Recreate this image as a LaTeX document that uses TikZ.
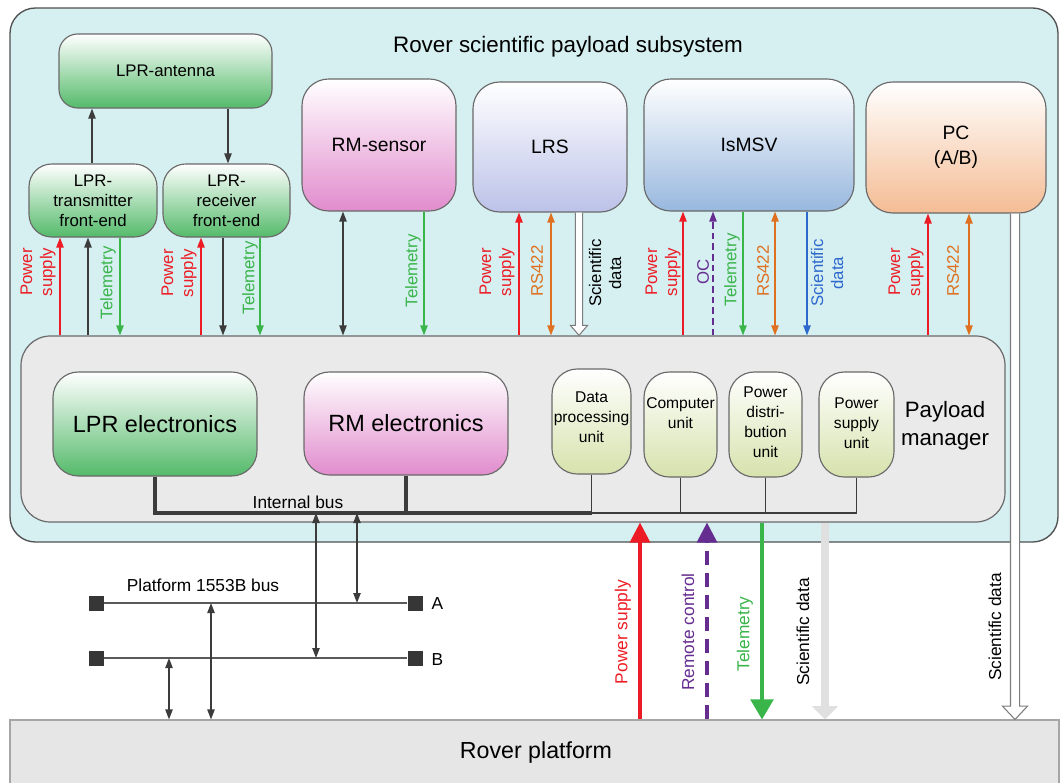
\documentclass[tikz,border=0pt]{standalone}
\usepackage{fontspec}
\setmainfont{Liberation Sans}
\usetikzlibrary{arrows.meta,calc}

\definecolor{skyfill}{RGB}{214,239,241}
\definecolor{frameline}{RGB}{80,80,80}
\definecolor{boxline}{RGB}{105,105,105}
\definecolor{pmfill}{RGB}{234,234,234}
\definecolor{platfill}{RGB}{230,230,230}
\definecolor{lprgreen}{RGB}{84,186,106}
\definecolor{rmpink}{RGB}{225,140,205}
\definecolor{lrslav}{RGB}{188,194,232}
\definecolor{msvblue}{RGB}{152,184,222}
\definecolor{pcpeach}{RGB}{244,188,148}
\definecolor{unitgreen}{RGB}{214,226,172}
\definecolor{pwred}{RGB}{237,28,36}
\definecolor{tmgreen}{RGB}{57,181,74}
\definecolor{rsorange}{RGB}{222,112,32}
\definecolor{ocpurple}{RGB}{102,45,145}
\definecolor{sdblue}{RGB}{45,105,205}
\definecolor{wire}{RGB}{60,60,60}
\definecolor{hollowline}{RGB}{125,125,125}
\definecolor{sdgray}{RGB}{224,224,224}

% hollow (outlined) arrow from #1 to #2: half shaft width, half head width, head length
\newcommand\hollowarrow[5]{%
  \draw[draw=hollowline, fill=white, line width=0.8pt, line join=miter]
    let \p1=(#1), \p2=(#2) in
    (\x1-#3,\y1) -- (\x1-#3,\y2+#5) -- (\x1-#4,\y2+#5) -- (\x1,\y2)
    -- (\x1+#4,\y2+#5) -- (\x1+#3,\y2+#5) -- (\x1+#3,\y1);}

\begin{document}
\begin{tikzpicture}[x=0.75pt,y=-0.75pt,
  sz/.style 2 args={minimum width=#1*0.75pt,minimum height=#2*0.75pt},
  box/.style={draw=boxline,line width=0.85pt,rounded corners=#1,align=center,inner sep=0pt,text=black},
  box/.default=18pt,
  stip/.tip={Triangle[length=7.5pt,width=5.5pt]},
  btip/.tip={Triangle[length=15pt,width=15pt]},
  thinarrow/.style={line width=0.95pt},
  pwr/.style={thinarrow,pwred,-stip},
  tlm/.style={thinarrow,tmgreen,-stip},
  rsl/.style={thinarrow,rsorange,stip-stip},
  ctl/.style={thinarrow,wire,-stip},
  ctlb/.style={thinarrow,wire,stip-stip},
  ocl/.style={thinarrow,ocpurple,dash pattern=on 5pt off 3pt,-stip},
  sdl/.style={thinarrow,sdblue,-stip},
  lab/.style={rotate=90,align=center,inner sep=0pt,font=\fontsize{12.6}{15}\selectfont},
  blab/.style={rotate=90,inner sep=0pt,font=\fontsize{13}{15}\selectfont},
  devfont/.style={font=\fontsize{14.5}{18.75}\selectfont},
  lprfont/.style={font=\fontsize{12.6}{15}\selectfont},
  unitfont/.style={font=\fontsize{11.7}{15}\selectfont,align=center,inner sep=0pt},
  bigfont/.style={font=\fontsize{17.6}{21}\selectfont},
  thickbus/.style={line width=3pt,wire},
  thinbus/.style={line width=1.1pt,wire},
  pbus/.style={line width=1.1pt,wire!85},
  term/.style={fill=wire!90!black,minimum size=11.25pt,inner sep=0pt}
]
\useasboundingbox (0,0) rectangle (1060,782);

% subsystem frame and platform
\node[draw=frameline,line width=1pt,fill=skyfill,rounded corners=19pt,sz={1048}{534}] (sub) at (534,275) {};
\node[font=\fontsize{16.8}{20}\selectfont] (title) at (568,47) {Rover scientific payload subsystem};
\node[draw=gray!70,line width=0.8pt,fill=platfill,sz={1049}{80}] (plat) at (534.5,760) {};
\node[font=\fontsize{17.4}{20}\selectfont] (platlab) at (536,752) {Rover platform};

% payload manager
\node[draw=boxline,line width=0.9pt,fill=pmfill,rounded corners=22pt,sz={984}{186}] (pm) at (513,429) {};
\node[align=center,font=\fontsize{16.7}{21}\selectfont] (pmlab) at (945,426) {Payload\\manager};

% LPR chain
\node[box=14pt,top color=white,bottom color=lprgreen,sz={213}{74},lprfont] (ant) at (165.5,71) {LPR-antenna};
\node[box=17pt,top color=white,bottom color=lprgreen,sz={128}{73},lprfont] (tx) at (93,200.5) {LPR-\\transmitter\\front-end};
\node[box=17pt,top color=white,bottom color=lprgreen,sz={127}{73},lprfont] (rx) at (226.5,200.5) {LPR-\\receiver\\front-end};

% instruments
\node[box=20pt,top color=white,bottom color=rmpink,sz={154}{132},devfont] (rms) at (379,145) {RM-sensor};
\node[box=20pt,top color=white,bottom color=lrslav,sz={154}{130},devfont] (lrs) at (550,147) {LRS};
\node[box=20pt,top color=white,bottom color=msvblue,sz={210}{132},devfont] (msv) at (749,145) {IsMSV};
\node[box=20pt,top color=white,bottom color=pcpeach,sz={180}{131},devfont] (pc) at (956,147.5) {PC\\(A/B)};

% payload manager units
\node[box=19pt,top color=white,bottom color=lprgreen,sz={204}{104},bigfont] (lpre) at (155,424) {LPR electronics};
\node[box=19pt,top color=white,bottom color=rmpink,sz={204}{103},bigfont] (rme) at (406,423.5) {RM electronics};
\node[box=19pt,top color=white,bottom color=unitgreen,sz={79}{105}] (dpu) at (591.5,421.5) {};
\node[unitfont] (dput) at (591.5,417) {Data\\processing\\unit};
\node[box=19pt,top color=white,bottom color=unitgreen,sz={73}{105}] (cu) at (680.5,424.5) {};
\node[unitfont] (cut) at (680.5,413) {Computer\\unit};
\node[box=19pt,top color=white,bottom color=unitgreen,sz={73}{105}] (pdu) at (765.5,424.5) {};
\node[unitfont] (pdut) at (765.5,422) {Power\\distri-\\bution\\unit};
\node[box=19pt,top color=white,bottom color=unitgreen,sz={75}{105}] (psu) at (856.5,424.5) {};
\node[unitfont] (psut) at (856.5,423) {Power\\supply\\unit};

% internal bus
\coordinate (busL) at (155,513);
\draw[thinbus] (dpu.south) -- (dpu.south |- busL) -- (psu.south |- busL) -- (psu.south);
\draw[thinbus] (cu.south) -- (cu.south |- busL);
\draw[thinbus] (pdu.south) -- (pdu.south |- busL);
\draw[thickbus] (lpre.south) |- (dpu.south |- busL);
\draw[thickbus] (rme.south) -- (rme.south |- busL);
\node[font=\fontsize{13}{15}\selectfont] (iblab) at (298,502) {Internal bus};

% LPR links
\draw[ctl] (tx.north -| 92,0) -- (ant.south -| 92,0);
\draw[ctl] (ant.south -| 228,0) -- (rx.north -| 228,0);
\draw[pwr] (pm.north -| 60,0) -- (tx.south -| 60,0);
\draw[ctl] (pm.north -| 88,0) -- (tx.south -| 88,0);
\draw[tlm] (tx.south -| 120,0) -- (pm.north -| 120,0);
\draw[pwr] (pm.north -| 201,0) -- (rx.south -| 201,0);
\draw[ctl] (rx.south -| 223,0) -- (pm.north -| 223,0);
\draw[tlm] (rx.south -| 260,0) -- (pm.north -| 260,0);
\node[lab,pwred] (l1) at (38,272) {Power\\supply};
\node[lab,tmgreen] (l2) at (108,283) {Telemetry};
\node[lab,pwred] (l3) at (179,273) {Power\\supply};
\node[lab,tmgreen] (l4) at (250,278) {Telemetry};

% RM-sensor links
\draw[ctlb] (rms.south -| 343,0) -- (pm.north -| 343,0);
\draw[tlm] (rms.south -| 424,0) -- (pm.north -| 424,0);
\node[lab,tmgreen] (l5) at (413,271) {Telemetry};

% LRS links
\draw[pwr] (pm.north -| 519,0) -- (lrs.south -| 519,0);
\draw[rsl] (pm.north -| 551,0) -- (lrs.south -| 551,0);
\hollowarrow{lrs.south -| 579,0}{pm.north -| 579,0}{2.7pt}{6.4pt}{7.5pt}
\node[lab,pwred] (l6) at (497,272) {Power\\supply};
\node[lab,rsorange] (l7) at (537,271) {RS422};
\node[lab,black] (l8) at (605,273) {Scientific\\data};

% IsMSV links
\draw[pwr] (pm.north -| 683,0) -- (msv.south -| 683,0);
\draw[ocl] (pm.north -| 713,0) -- (msv.south -| 713,0);
\draw[tlm] (msv.south -| 743,0) -- (pm.north -| 743,0);
\draw[rsl] (pm.north -| 775,0) -- (msv.south -| 775,0);
\draw[sdl] (msv.south -| 807,0) -- (pm.north -| 807,0);
\node[lab,pwred] (l9) at (663,272) {Power\\supply};
\node[lab,ocpurple] (l10) at (703,272) {OC};
\node[lab,tmgreen] (l11) at (732,270) {Telemetry};
\node[lab,rsorange] (l12) at (763,271) {RS422};
\node[lab,sdblue] (l13) at (827,273) {Scientific\\data};

% PC links
\draw[pwr] (pm.north -| 928,0) -- (pc.south -| 928,0);
\draw[rsl] (pm.north -| 969,0) -- (pc.south -| 969,0);
\node[lab,pwred] (l14) at (906,272) {Power\\supply};
\node[lab,rsorange] (l15) at (953,271) {RS422};
\hollowarrow{pc.south -| 1015,0}{plat.north -| 1015,0}{3.4pt}{9.4pt}{10pt}
\node[blab] (l16) at (995,627) {Scientific data};

% platform 1553B bus
\node[term] (aL) at (96,603) {};
\node[term] (aR) at (415,603) {};
\node[term] (bL) at (96,658) {};
\node[term] (bR) at (415,658) {};
\draw[pbus] (aL) -- (aR);
\draw[pbus] (bL) -- (bR);
\node[font=\fontsize{13}{15}\selectfont,anchor=west] (alab) at (427,604) {A};
\node[font=\fontsize{13}{15}\selectfont,anchor=west] (blab) at (427,660) {B};
\node[font=\fontsize{13}{15}\selectfont] (pblab) at (203,585) {Platform 1553B bus};
\coordinate (bj1) at (316,513);
\coordinate (bj2) at (357,513);
\draw[ctlb] (bj1) -- (bj1 |- bL);
\draw[ctlb] (bj2) -- (bj2 |- aL);
\draw[ctlb] (bL -| 169,0) -- (plat.north -| 169,0);
\draw[ctlb] (aL -| 211,0) -- (plat.north -| 211,0);

% platform links
\draw[line width=2.4pt,pwred,-btip] (plat.north -| 640,0) -- (pm.south -| 640,0);
\draw[line width=2.4pt,ocpurple,dash pattern=on 10.5pt off 6pt,-btip] (plat.north -| 707,0) -- (pm.south -| 707,0);
\draw[line width=2.4pt,tmgreen,-{Triangle[length=15pt,width=17pt]}] (pm.south -| 762,0) -- (plat.north -| 762,0);
\draw[line width=5.5pt,sdgray,-{Triangle[length=10pt,width=19pt]}] (pm.south -| 825,0) -- (plat.north -| 825,0);
\node[blab,pwred] (l17) at (623,632) {Power supply};
\node[blab,ocpurple] (l18) at (688,632) {Remote control};
\node[blab,tmgreen] (l19) at (745,634) {Telemetry};
\node[blab,black] (l20) at (803,632) {Scientific data};
\end{tikzpicture}
\end{document}
